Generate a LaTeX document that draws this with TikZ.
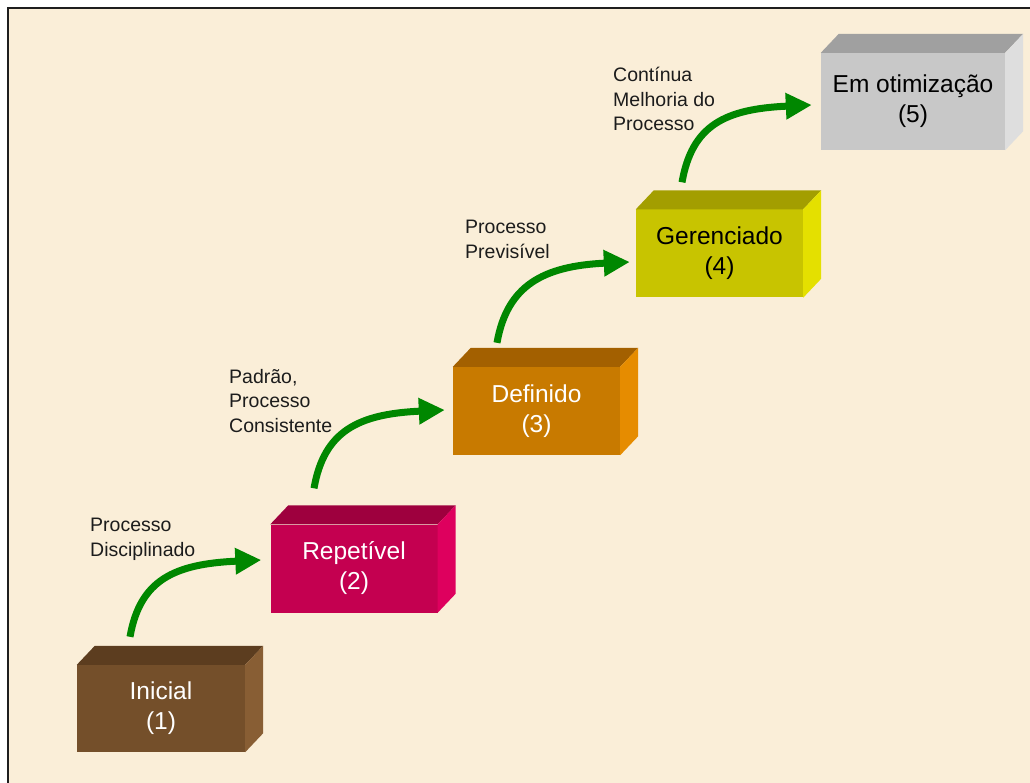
\documentclass[tikz,border=0pt]{standalone}
\usepackage{fontspec}
\setmainfont{Liberation Sans}
\usetikzlibrary{arrows.meta}

\definecolor{paper}{RGB}{250,238,216}
\definecolor{frameline}{RGB}{30,30,30}
\definecolor{notegray}{RGB}{28,28,28}
\definecolor{arrowgreen}{RGB}{0,135,0}
% front / top / side of each stage block
\definecolor{c1f}{RGB}{116,79,42}  \definecolor{c1t}{RGB}{92,61,31}   \definecolor{c1s}{RGB}{136,94,52}
\definecolor{c2f}{RGB}{196,0,80}   \definecolor{c2t}{RGB}{158,0,62}   \definecolor{c2s}{RGB}{222,0,94}
\definecolor{c3f}{RGB}{200,122,0}  \definecolor{c3t}{RGB}{163,96,0}   \definecolor{c3s}{RGB}{230,140,0}
\definecolor{c4f}{RGB}{200,196,0}  \definecolor{c4t}{RGB}{163,158,0}  \definecolor{c4s}{RGB}{228,224,0}
\definecolor{c5f}{RGB}{200,200,200}\definecolor{c5t}{RGB}{160,160,160}\definecolor{c5s}{RGB}{222,222,222}

% top and right faces of a block drawn behind its front node
\newcommand\stagefaces[3]{%
  \fill[#2] (#1.north west) -- ++(18,-19) -- ([shift={(18,-19)}]#1.north east) -- (#1.north east) -- cycle;
  \fill[#3] (#1.north east) -- ++(18,-19) -- ([shift={(18,-19)}]#1.south east) -- (#1.south east) -- cycle;}

\begin{document}
\begin{tikzpicture}[x=1pt,y=-1pt,
  stage/.style={rectangle, inner sep=0pt, align=center,
    minimum width=167pt, minimum height=88pt,
    font=\fontsize{24.5}{30}\selectfont},
  note/.style={anchor=north west, inner sep=0pt, align=left, text=notegray,
    font=\fontsize{19.5}{24.5}\selectfont},
  flow/.style={draw=arrowgreen, line width=7pt,
    -{Triangle[length=26pt,width=25pt]},
    to path={.. controls +(10,-57) and +(-87,4) .. (\tikztotarget)}},
]
\useasboundingbox (0,0) rectangle (1030,783);
\clip (0,0) rectangle (1030,783);

% sheet and frame
\fill[white] (0,0) rectangle (1030,783);
\fill[paper] (8,8) rectangle (1040,800);
\draw[frameline, line width=1.6pt] (1040,8) -- (8,8) -- (8,800);

% stage blocks
\node[stage, fill=c1f, text=white, minimum width=168pt, minimum height=87pt] (s1) at (161,708.5) {Inicial\\(1)};
\stagefaces{s1}{c1t}{c1s}
\node[stage, fill=c2f, text=white] (s2) at (354,568.5) {Repetível\\(2)};
\stagefaces{s2}{c2t}{c2s}
\node[stage, fill=c3f, text=white] (s3) at (536.5,411) {Definido\\(3)};
\stagefaces{s3}{c3t}{c3s}
\node[stage, fill=c4f, text=black] (s4) at (719.5,253.5) {Gerenciado\\(4)};
\stagefaces{s4}{c4t}{c4s}
\node[stage, fill=c5f, text=black, minimum width=184pt, minimum height=97pt] (s5) at (913,101.5) {Em otimização\\(5)};
\stagefaces{s5}{c5t}{c5s}

% transition labels
\node[note] (n1) at (90,518) {Processo\\Disciplinado};
\node[note] (n2) at (229,369) {Padrão,\\Processo\\Consistente};
\node[note] (n3) at (465,220) {Processo\\Previsível};
\node[note] (n4) at (613,67) {Contínua\\Melhoria do\\Processo};

% green transition arrows
\draw[flow] ([shift={(-31,-28)}]s1.north) to ([shift={(-9,-8.5)}]s2.west);
\draw[flow] ([shift={(-40,-36)}]s2.north) to ([shift={(-8,-1)}]s3.west);
\draw[flow] ([shift={(-39.5,-24)}]s3.north) to ([shift={(-6,8.5)}]s4.west);
\draw[flow] ([shift={(-37.5,-27)}]s4.north) to ([shift={(-9,3.5)}]s5.west);
\end{tikzpicture}
\end{document}
